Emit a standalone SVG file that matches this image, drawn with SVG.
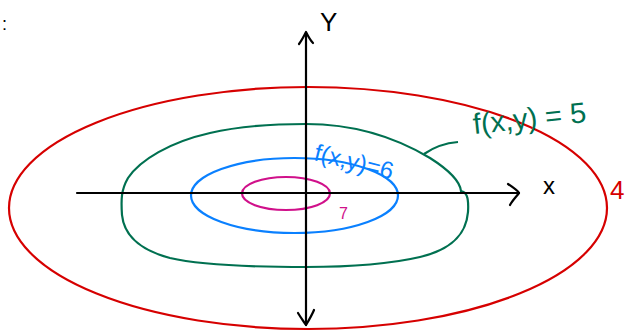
<svg xmlns="http://www.w3.org/2000/svg" width="626" height="332" viewBox="0 0 626 332">
<style>
.ax{stroke:#000;stroke-width:2.2;fill:none;stroke-linecap:round;stroke-linejoin:round}
.c{fill:none;stroke-width:2.2}
.t{font-family:"Liberation Sans","DejaVu Sans",sans-serif}
</style>
<rect width="626" height="332" fill="#fff"/>
<g id="level4"><ellipse class="c" cx="308" cy="208" rx="299" ry="121" stroke="#d60000"/></g>
<g id="level5"><path class="c" stroke="#007050" d="M306,124 C360,124 400,140 430,158 C452,172 460,182 461,191 C466,192 469,196 468,212 C466,236 450,250 420,257 C390,264 350,267 306,267 C250,267 200,265 170,258 C140,250 124,235 122,215 C121,200 121,190 128,178 C140,160 170,142 210,133 C240,126 275,124 306,124 Z"/></g>
<g id="level6"><ellipse class="c" cx="294.5" cy="195.5" rx="103.5" ry="37.5" stroke="#0a80ff"/></g>
<g id="level7"><ellipse class="c" cx="286" cy="193.5" rx="44" ry="16.5" stroke="#d0108a"/></g>
<g id="axes">
<line class="ax" x1="77" y1="193" x2="519" y2="193"/>
<path class="ax" d="M508,184 C514,188 518,191 519,193 C516,197 512,201 510,205"/>
<line class="ax" x1="306" y1="33" x2="306" y2="325"/>
<path class="ax" d="M299,44 C302,40 304,36 306,32 C308,36 310,40 313,43"/>
<path class="ax" d="M298,313 C301,318 304,322 306,325 C309,320 312,315 314,310"/>
</g>
<g id="connectors"><path class="c" stroke="#007050" d="M424,154 C434,147 446,143 458,142"/></g>
<text class="t" x="2" y="30" font-size="18" fill="#000">:</text>
<text class="t" x="320" y="31" font-size="26" fill="#000">Y</text>
<text class="t" x="543" y="194" font-size="24" fill="#000">x</text>
<text class="t" x="610" y="199" font-size="26" fill="#d60000">4</text>
<text class="t" x="474" y="134" font-size="29" fill="#007050" transform="rotate(-6 474 134)">f(x,y) = 5</text>
<text class="t" x="313" y="160" font-size="24" fill="#0a80ff" transform="rotate(14 313 160)">f(x,y)=6</text>
<text class="t" x="339" y="219" font-size="16" fill="#d0108a">7</text>
</svg>
